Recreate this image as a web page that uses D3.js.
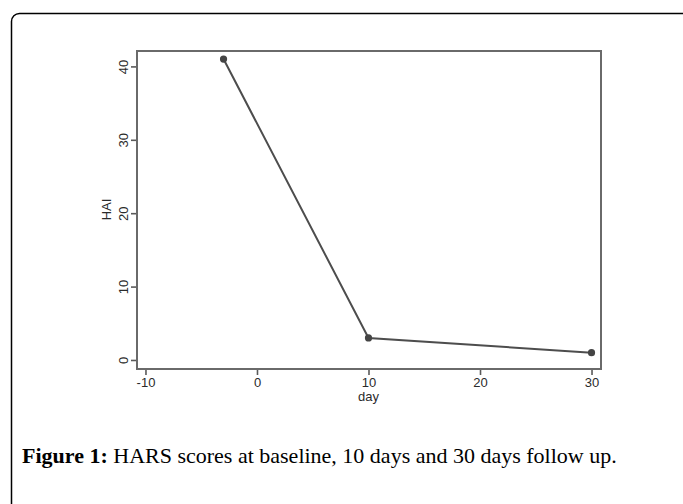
<!DOCTYPE html>
<html>
<head>
<meta charset="utf-8">
<script src="https://cdn.jsdelivr.net/npm/d3@7"></script>
<style>
  html, body { margin: 0; padding: 0; background: #fff; }
  svg { display: block; }
</style>
</head>
<body>
<svg id="chart" width="683" height="504"></svg>
<script>
// ---- data ----
const days = [-3, 10, 30];
const hai = [41, 3, 1];
const xTicks = [-10, 0, 10, 20, 30];
const yTicks = [0, 10, 20, 30, 40];
const xTitle = "day";
const yTitle = "HAI";
const captionBold = "Figure 1:";
const captionText = " HARS scores at baseline, 10 days and 30 days follow up.";

const svg = d3.select("#chart");

// outer rounded frame
svg.append("rect")
  .attr("x", 11.5).attr("y", 13.5)
  .attr("width", 700).attr("height", 520)
  .attr("rx", 8).attr("ry", 8)
  .attr("fill", "none").attr("stroke", "#000").attr("stroke-width", 1.5);

const pLeft = 137, pRight = 601, pTop = 51, pBottom = 369;

const x = d3.scaleLinear().domain([-10.76, 30.85]).range([pLeft, pRight]);
const y = d3.scaleLinear().domain([-1.23, 42.1]).range([pBottom, pTop]);

const axisColor = "#5a5a5a";
const textColor = "#2a2a2a";
const font = "'Liberation Sans', Arial, Helvetica, sans-serif";
const fs = 13;

// x axis
const gx = svg.append("g")
  .attr("transform", `translate(0,${pBottom})`)
  .call(d3.axisBottom(x).tickValues(xTicks).tickSize(6).tickPadding(3).tickFormat(d => String(d)));
gx.select(".domain").remove();
gx.selectAll("line").attr("stroke", axisColor).attr("stroke-width", 1.6);
gx.selectAll("text").attr("font-family", font).attr("font-size", fs).attr("fill", textColor);

// y axis
const gy = svg.append("g")
  .attr("transform", `translate(${pLeft},0)`)
  .call(d3.axisLeft(y).tickValues(yTicks).tickSize(6).tickPadding(2).tickFormat(d => String(d)));
gy.select(".domain").remove();
gy.selectAll("line").attr("stroke", axisColor).attr("stroke-width", 1.6);
gy.selectAll("text")
  .attr("font-family", font).attr("font-size", fs).attr("fill", textColor)
  .attr("text-anchor", "middle")
  .attr("x", null)
  .attr("transform", "translate(-14,0) rotate(-90)")
  .attr("dy", "0.35em");

// plot frame
svg.append("rect")
  .attr("x", pLeft).attr("y", pTop)
  .attr("width", pRight - pLeft).attr("height", pBottom - pTop)
  .attr("fill", "none").attr("stroke", "#6a6a6a").attr("stroke-width", 2);

// axis titles
svg.append("text")
  .attr("x", x(10)).attr("y", 401)
  .attr("text-anchor", "middle")
  .attr("font-family", font).attr("font-size", fs).attr("fill", textColor)
  .text(xTitle);
svg.append("text")
  .attr("transform", `translate(111,${y(20.5)}) rotate(-90)`)
  .attr("text-anchor", "middle")
  .attr("font-family", font).attr("font-size", fs).attr("fill", textColor)
  .text(yTitle);

// line + points
const pts = days.map((d, i) => ({ d, v: hai[i] }));
svg.append("path")
  .datum(pts)
  .attr("fill", "none").attr("stroke", "#4d4d4d").attr("stroke-width", 2)
  .attr("d", d3.line().x(p => x(p.d)).y(p => y(p.v)));
svg.selectAll("circle.pt").data(pts).enter().append("circle")
  .attr("class", "pt")
  .attr("cx", p => x(p.d)).attr("cy", p => y(p.v)).attr("r", 3.6)
  .attr("fill", "#444");

// caption
const cap = svg.append("text")
  .attr("x", 22).attr("y", 463)
  .attr("font-family", "'Liberation Serif', 'DejaVu Serif', serif")
  .attr("font-size", 22).attr("fill", "#000");
cap.append("tspan").attr("font-weight", "bold").text(captionBold);
cap.append("tspan").text(captionText);
</script>
</body>
</html>
